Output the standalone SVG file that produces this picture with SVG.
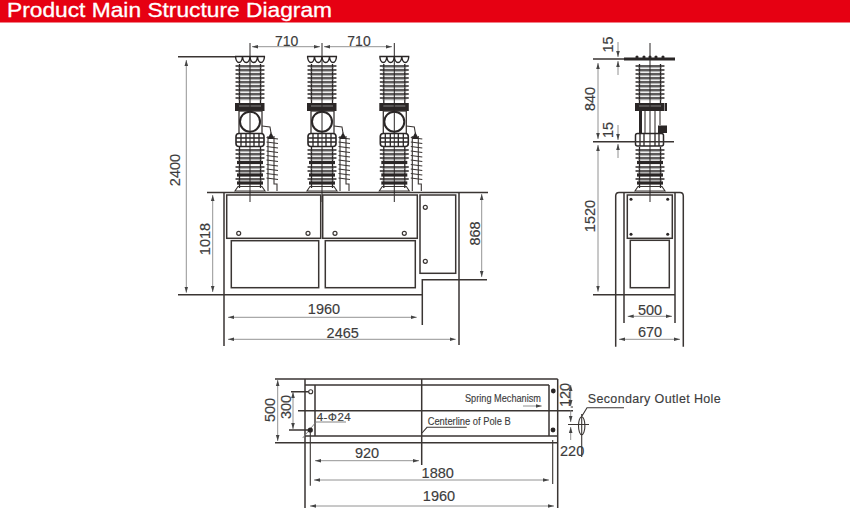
<svg xmlns="http://www.w3.org/2000/svg" width="850" height="527" viewBox="0 0 850 527">
<style>
.o{fill:none;stroke:#3a3533;stroke-width:1.1}
.p{fill:#fff;stroke:#3a3533;stroke-width:1.1}
.h{fill:none;stroke:#3a3533;stroke-width:1.5}
.k{fill:#2a2626;stroke:none}
.d{fill:none;stroke:#777;stroke-width:.8;marker-start:url(#a);marker-end:url(#b)}
.e{fill:none;stroke:#777;stroke-width:.8;marker-end:url(#b)}
.l{fill:none;stroke:#777;stroke-width:.9}
text{font-family:"Liberation Sans",Arial,sans-serif;fill:#3c3c3c;font-size:14.5px;stroke:#3c3c3c;stroke-width:.15}
.m{text-anchor:middle}
.n{font-size:11.5px}
</style>
<defs>
<marker id="b" markerWidth="6" markerHeight="5" refX="6" refY="2.5" orient="auto" markerUnits="userSpaceOnUse"><path d="M0,.7 L6,2.5 L0,4.3z" fill="#444"/></marker>
<marker id="a" markerWidth="6" markerHeight="5" refX="0" refY="2.5" orient="auto" markerUnits="userSpaceOnUse"><path d="M6,.7 L0,2.5 L6,4.3z" fill="#444"/></marker>
<g id="s"><path d="M-14,0 H14" fill="none" stroke="#2a2626" stroke-width="1.300" stroke-linecap="round"/><path d="M-12,1.700 H12" fill="none" stroke="#777" stroke-width=".7"/></g>
<path id="t" d="M-13,-1.600 H13 V1.600 H-13z" fill="#2a2626"/>
<g id="upper">
<path d="M-10.500,64 V103 M10.500,64 V103" fill="none" stroke="#2a2626" stroke-width="1.300"/>
<use href="#s" y="66"/><use href="#s" y="70"/><use href="#s" y="74"/><use href="#s" y="78"/><use href="#s" y="82"/><use href="#s" y="86"/><use href="#s" y="90"/><use href="#s" y="94"/><use href="#s" y="98"/>
<path class="k" d="M-15,103 H14.500 V111 H-15z"/>
<path d="M-11,106 H11" stroke="#999" stroke-width=".8" fill="none"/>
</g>
<g id="lower">
<path d="M-10.500,147 V188 M10.500,147 V188" fill="none" stroke="#2a2626" stroke-width="1.300"/>
<use href="#s" y="150"/><use href="#s" y="154"/><use href="#s" y="158"/><use href="#t" y="162.500"/><use href="#s" y="167"/><use href="#s" y="171"/><use href="#t" y="175"/><use href="#s" y="179"/><use href="#t" y="183"/>
<path class="o" d="M-12,186.500 H12 L15,191 H-15z"/>
</g>
<g id="side">
<path class="o" d="M16.500,137.500 L28,139 M16.500,142 L28,143.500 M16.500,146.500 L28,148 M16.500,151 L28,152.500 M16.500,155.500 L28,157 M16.500,160 L28,161.500 M16.500,164.500 L28,166 M16.500,169 L28,170.500 M16.500,173.500 L28,175 M16.500,178 L28,179.500"/>
<path class="o" d="M18,136 V191 M24,136 V184 H27 V191"/>
<path class="k" d="M21,132 L24.500,139 H17.500z"/>
<path class="o" d="M12,126 L20,127 L21,133"/>
</g>
<g id="pole">
<path d="M-15,56.500 H15 M-14.500,56.500 Q-14,62.500 -11,62.500 Q-8,62.500 -7.500,56.500 Q-7,62.500 -3.700,62.500 Q-.5,62.500 0,56.500 Q.5,62.500 3.700,62.500 Q7,62.500 7.500,56.500 Q8,62.500 11,62.500 Q14,62.500 14.500,56.500" fill="none" stroke="#2a2626" stroke-width="1.400"/>
<use href="#upper"/>
<rect class="p" x="-11" y="111" width="23" height="24" style="stroke-width:1.300"/>
<circle cx="0" cy="121.700" r="10" fill="#fff" stroke="#2a2626" stroke-width="2"/>
<use href="#side"/>
<rect x="-14" y="133.500" width="28" height="13" rx="3" fill="#fff" stroke="#2a2626" stroke-width="1.600"/>
<path d="M-9,133 V147 M-4,133 V147 M4,133 V147 M9,133 V147 M-14,138 H14 M-14,142 H14" fill="none" stroke="#2a2626" stroke-width="1.300"/>
<use href="#lower"/>
<path d="M0,43 V202" fill="none" stroke="#2a2626" stroke-width="1"/>
</g>
</defs>

<g id="header">
<rect x="0" y="0" width="850" height="22.500" fill="#e60012"/>
<text x="7" y="16.500" style="fill:#fff;stroke:#fff;stroke-width:.3;font-size:20px" textLength="325" lengthAdjust="spacingAndGlyphs">Product Main Structure Diagram</text>
</g>

<g id="front-view">
<path class="h" d="M207,192.500 H488"/>
<use href="#pole" x="250"/><use href="#pole" x="322"/><use href="#pole" x="394.300"/>
<path class="h" d="M224,192 V346 M459,192 V345 M178,294.700 H422.300 M422.300,325 V279.700 H487 M178,56.700 H235"/>
<rect class="h" x="226.700" y="195" width="94" height="43.300"/>
<rect class="h" x="322.700" y="195" width="94.600" height="43.300"/>
<rect class="h" x="420" y="195" width="35.700" height="78.300"/>
<rect class="h" x="231.300" y="240.700" width="87.400" height="47"/>
<rect class="h" x="325.300" y="240.700" width="90" height="47"/>
<g class="p" style="stroke-width:1.200">
<circle cx="238.700" cy="233.300" r="2"/><circle cx="308" cy="233.300" r="2"/><circle cx="335" cy="233.300" r="2"/><circle cx="404.300" cy="233.300" r="2"/><circle cx="425.300" cy="207.300" r="2"/><circle cx="425.300" cy="261.300" r="2"/>
</g>
</g>

<g id="side-view">
<rect class="k" x="624" y="57.500" width="51" height="3"/>
<g class="k"><circle cx="637" cy="57" r="1.600"/><circle cx="644" cy="57" r="1.600"/><circle cx="650" cy="57" r="1.600"/><circle cx="656" cy="57" r="1.600"/><circle cx="663" cy="57" r="1.600"/></g>
<use href="#upper" x="650"/>
<path class="k" d="M665,103 H667 V111 H665z"/>
<path class="o" d="M645,111 V133 M655,111 V133 M660,111 V125"/>
<rect class="k" x="639" y="111" width="3" height="22"/>
<rect class="k" x="658" y="125.500" width="9" height="7.500"/>
<rect x="635.500" y="133.500" width="28" height="12.500" rx="2" fill="#fff" stroke="#2a2626" stroke-width="1.500"/>
<path d="M640,133 V146 M644,133 V146 M655,133 V146 M659,133 V146" fill="none" stroke="#2a2626" stroke-width="1.300"/>
<use href="#lower" x="650"/>
<path class="h" d="M615.700,346.700 V196 Q615.700,192.500 619,192.500 H680 Q683.300,192.500 683.300,196 V346.700 M624,192.500 V323 M675,192.500 V323 M593,59 H624 M593,141.700 H674 M593,294.700 H675"/>
<path d="M650,43 V202" fill="none" stroke="#2a2626" stroke-width="1"/>
<rect class="h" x="627.300" y="195" width="45" height="43.300"/>
<rect class="h" x="630.300" y="240.300" width="39" height="47.400"/>
<g class="k"><circle cx="631" cy="199.300" r="1.500"/><circle cx="667.700" cy="199.300" r="1.500"/><circle cx="631" cy="234.300" r="1.500"/><circle cx="667.700" cy="234.300" r="1.500"/></g>
</g>

<g id="plan-view">
<path class="h" d="M275,379 H557.700 M305,379 V508 M557.700,379 V508 M305,385 H549 M315,385 V436 M549,385 V436 M305,436 H557.700 M275,442.700 H557.700 M298,410.700 H573 M421.700,379 V465 M291,391.700 H309 M289,430 H308"/>
<path class="o" d="M310.300,432 V485.700 M552.700,440 V484 M422,433 L427,427.300 H466.700 M568,424.500 H589 M581.700,414 V457 M582,416 L587,407.700 H624 M570.700,407 H573"/>
<path class="l" d="M302.700,438 L316,422 H346"/>
<circle class="p" cx="310.700" cy="391.700" r="2"/>
<circle class="k" cx="310.300" cy="430" r="2.600"/>
<circle class="k" cx="553.300" cy="391" r="2.400"/>
<circle class="k" cx="553" cy="430" r="2.400"/>
<ellipse class="o" cx="581.700" cy="425.700" rx="3.200" ry="9"/>
</g>

<g id="connectors">
<path class="d" d="M252,46.700 H320"/><path class="d" d="M324,46.700 H392"/>
<path class="d" d="M186.300,60 V292.700"/><path class="d" d="M212.700,195 V292"/><path class="d" d="M481.700,194 V277"/>
<path class="d" d="M228,317.300 H416.700"/><path class="d" d="M228,339.300 H455.700"/>
<path class="e" d="M618,42 V57"/><path class="e" d="M618,75 V61"/><path class="e" d="M618,125 V140"/><path class="e" d="M618,158 V144"/>
<path class="d" d="M598,63 V139"/><path class="d" d="M598,145 V291.700"/>
<path class="d" d="M627.700,316.300 H672"/><path class="d" d="M619,339.300 H680"/>
<path class="d" d="M277.700,380 V441"/><path class="d" d="M293,392 V429"/>
<path class="d" d="M315,460.700 H419"/><path class="d" d="M314,480 H549"/><path class="d" d="M310,506 H554"/>
<path class="e" d="M523,406 H541.700"/>
<path class="d" d="M570.700,385 V406"/>
<path class="e" d="M570.700,410 V422"/><path class="e" d="M570.700,440 V427"/>
</g>

<g id="labels">
<text class="m" x="286.700" y="46" style="font-size:14px">710</text>
<text class="m" x="359" y="46" style="font-size:14px">710</text>
<text class="m" transform="translate(180,170) rotate(-90)">2400</text>
<text class="m" transform="translate(210,239) rotate(-90)">1018</text>
<text class="m" transform="translate(480,233.500) rotate(-90)">868</text>
<text class="m" x="324" y="314">1960</text>
<text class="m" x="342.700" y="337.700">2465</text>
<text class="m" transform="translate(613,44.500) rotate(-90)">15</text>
<text class="m" transform="translate(595,99) rotate(-90)">840</text>
<text class="m" transform="translate(613,130) rotate(-90)">15</text>
<text class="m" transform="translate(595,216) rotate(-90)">1520</text>
<text class="m" x="650" y="315">500</text>
<text class="m" x="650" y="337">670</text>
<text class="m" transform="translate(275,410) rotate(-90)">500</text>
<text class="m" transform="translate(291,407) rotate(-90)">300</text>
<text x="316.700" y="420.500" style="font-size:11.500px" textLength="34">4-Φ24</text>
<text class="n" x="427.700" y="424.500" textLength="83" lengthAdjust="spacingAndGlyphs">Centerline of Pole B</text>
<text class="n" x="465" y="402" textLength="76" lengthAdjust="spacingAndGlyphs">Spring Mechanism</text>
<text class="m" x="367" y="458">920</text>
<text class="m" x="437.700" y="478">1880</text>
<text class="m" x="439" y="501">1960</text>
<text class="m" transform="translate(570,395) rotate(-90)">120</text>
<text x="560" y="455.700">220</text>
<text x="587.700" y="403" style="font-size:12.500px" textLength="133">Secondary Outlet Hole</text>
</g>
</svg>
